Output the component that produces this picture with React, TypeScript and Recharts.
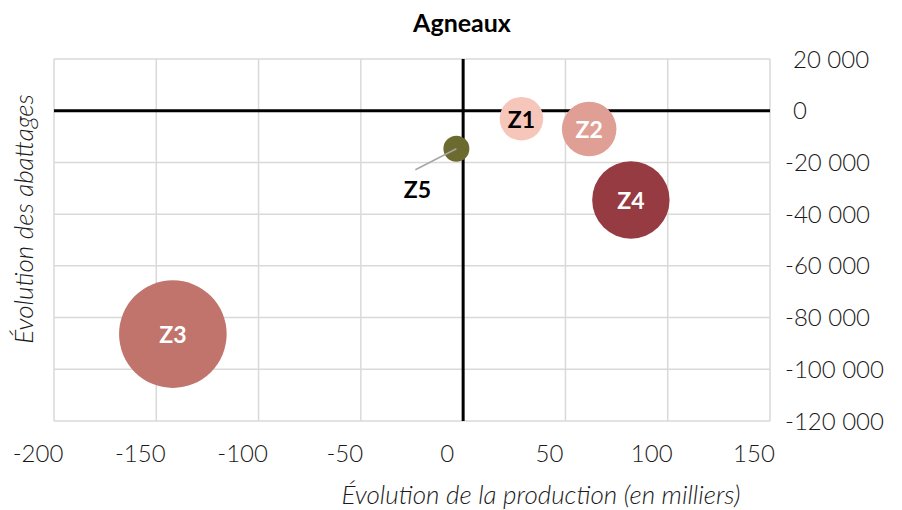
import React from "react"
import { ScatterChart, Scatter, XAxis, YAxis, ZAxis, CartesianGrid, ReferenceLine, Cell } from "recharts"

// zones, positions and bubble sizes
const zones = ["Z1", "Z2", "Z3", "Z4", "Z5"]
const production = [28.5, 61.6, -141.9, 82, -3.3]
const abattages = [-3100, -7100, -86400, -34500, -14700]
const taille = [475, 745, 2894, 1498, 169]
const colors = ["#F7C6BA", "#E09F94", "#C0746C", "#953B41", "#6C6A2E"]
const labelColors = ["#000000", "#FFFFFF", "#FFFFFF", "#FFFFFF", "#000000"]

const xTicks = [-200, -150, -100, -50, 0, 50, 100, 150]
const yTicks = [20000, 0, -20000, -40000, -60000, -80000, -100000, -120000]

const data = zones.map((name, i) => ({
  name,
  i,
  x: production[i],
  y: abattages[i],
  z: taille[i],
}))

const maxZ = Math.max(...taille)
const FONT = "Lato, 'Open Sans', sans-serif"

const fmt = (v: number) => {
  const s = Math.abs(v).toString().replace(/\B(?=(\d{3})+(?!\d))/g, " ")
  return v < 0 ? "-" + s : s
}

const Bubble = (props: any) => {
  const { cx, cy, width, payload } = props
  const r = width / 2
  const i = payload.i
  const outside = payload.name === "Z5"
  return (
    <g>
      <circle cx={cx} cy={cy} r={r} fill={colors[i]} />
      {outside ? (
        <g>
          <line x1={cx} y1={cy} x2={cx - 41} y2={cy + 21} stroke="#A6A6A6" strokeWidth={1.5} />
          <text x={cx - 39} y={cy + 40} textAnchor="middle" dominantBaseline="central"
            fontFamily={FONT} fontWeight={700} fontSize={23} fill={labelColors[i]}>
            {payload.name}
          </text>
        </g>
      ) : (
        <text x={cx} y={cy} textAnchor="middle" dominantBaseline="central"
          fontFamily={FONT} fontWeight={700} fontSize={23} fill={labelColors[i]}>
          {payload.name}
        </text>
      )}
    </g>
  )
}

const YTick = (props: any) => {
  const { x, y, payload } = props
  const v = payload.value
  return (
    <text x={x + (v >= 0 ? 8 : 0)} y={y} dy="0.355em" textAnchor="start"
      fontFamily={FONT} fontWeight={300} fontSize={24} fill="#1A1A1A">
      {fmt(v)}
    </text>
  )
}

export default function App() {
  return (
    <div style={{ position: "absolute", left: 0, top: 0, width: 902, height: 510, background: "#fff" }}>
      <div style={{ position: "absolute", left: 312, top: 8, width: 300, textAlign: "center",
        fontFamily: FONT, fontWeight: 700, fontSize: 25, lineHeight: "28px", color: "#000" }}>
        Agneaux
      </div>
      <ScatterChart width={902} height={510} margin={{ top: 59, right: 10, bottom: 29, left: 54 }}>
        <CartesianGrid stroke="#D9D9D9" strokeWidth={1.5} />
        <XAxis type="number" dataKey="x" domain={[-200, 150]} ticks={xTicks} height={60}
          axisLine={false} tickLine={false} tickSize={0} tickMargin={24} dx={-16}
          tick={{ fontFamily: FONT, fontWeight: 300, fontSize: 24, fill: "#1A1A1A" }} />
        <YAxis type="number" dataKey="y" orientation="right" domain={[-120000, 20000]} ticks={yTicks}
          width={122} axisLine={false} tickLine={false} tickSize={0} tickMargin={15}
          tick={<YTick />} />
        <ZAxis type="number" dataKey="z" domain={[0, maxZ]} range={[0, Math.PI * maxZ]} />
        <ReferenceLine y={0} stroke="#000" strokeWidth={3} />
        <ReferenceLine x={0} stroke="#000" strokeWidth={3} />
        <Scatter data={data} shape={<Bubble />} isAnimationActive={false}>
          {data.map((d, i) => (
            <Cell key={d.name} fill={colors[i]} />
          ))}
        </Scatter>
      </ScatterChart>
      <div style={{ position: "absolute", left: 291, top: 479, width: 500, textAlign: "center",
        fontFamily: FONT, fontWeight: 300, fontStyle: "italic", fontSize: 26, lineHeight: "30px", color: "#1A1A1A" }}>
        Évolution de la production (en milliers)
      </div>
      <div style={{ position: "absolute", left: 23 - 170, top: 219 - 15, width: 340, height: 30, textAlign: "center",
        transform: "rotate(-90deg)", fontFamily: FONT, fontWeight: 300, fontStyle: "italic", fontSize: 26,
        lineHeight: "30px", color: "#1A1A1A" }}>
        Évolution des abattages
      </div>
    </div>
  )
}
